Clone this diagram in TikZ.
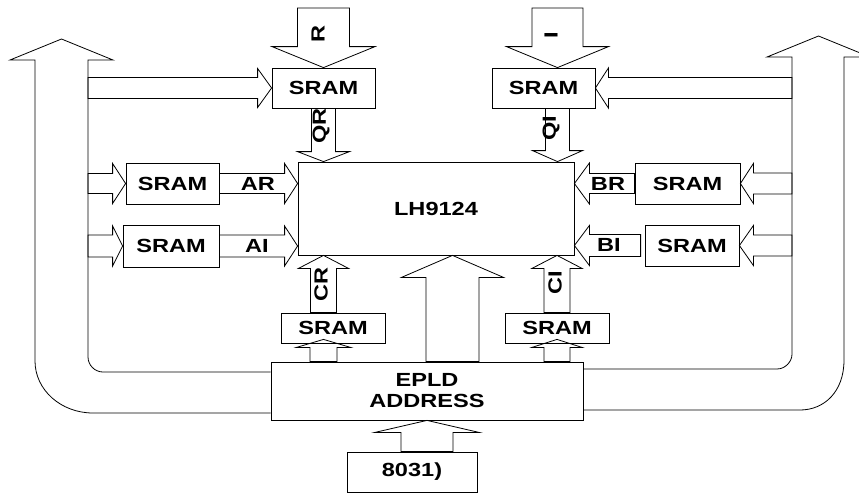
\documentclass[tikz,border=0pt]{standalone}
\usepackage{fontspec}
\setmainfont{Liberation Sans}[FakeStretch=1.24]
\usetikzlibrary{calc}

% block arrow: from, to, shaft half width, head half width, head length
\newcommand{\blkarrow}[5]{%
  \coordinate (ba) at (#1);
  \coordinate (bb) at (#2);
  \coordinate (bh) at ($(bb)!#5!(ba)$);
  \draw[blk] ($(ba)!#3!90:(bb)$) -- ($(bh)!#3!90:(bb)$) -- ($(bh)!#4!90:(bb)$)
    -- (bb) -- ($(bh)!#4!-90:(bb)$) -- ($(bh)!#3!-90:(bb)$) -- ($(ba)!#3!-90:(bb)$) -- cycle;
}

\begin{document}
\begin{tikzpicture}[x=1pt, y=-1pt,
  box/.style={draw, line width=0.8pt, inner sep=0pt, align=center,
              font=\bfseries\fontsize{19}{21}\selectfont},
  blk/.style={draw, line width=0.8pt},
  bus/.style={draw, line width=0.8pt},
  lbl/.style={inner sep=0pt, font=\bfseries\fontsize{19}{21}\selectfont},
]
\path[use as bounding box, clip] (0,0) rectangle (859,493);

% boxes
\node[box, minimum width=103pt, minimum height=40pt] (sqr)  at (323.5,88)  {SRAM};
\node[box, minimum width=103pt, minimum height=40pt] (sqi)  at (543.5,88)  {SRAM};
\node[box, minimum width=276pt, minimum height=93pt] (lh)   at (436,208.5) {LH9124};
\node[box, minimum width=93pt,  minimum height=41pt] (sar)  at (172.5,183.5) {SRAM};
\node[box, minimum width=96pt,  minimum height=42pt] (sai)  at (171,246)   {SRAM};
\node[box, minimum width=105pt, minimum height=41pt] (sbr)  at (687.5,183.5) {SRAM};
\node[box, minimum width=94pt,  minimum height=41pt] (sbi)  at (692,245.5) {SRAM};
\node[box, minimum width=104pt, minimum height=30pt] (scr)  at (333,328)   {SRAM};
\node[box, minimum width=104pt, minimum height=30pt] (sci)  at (557,328)   {SRAM};
\node[box, minimum width=312pt, minimum height=58pt] (epld) at (427,391)   {EPLD\\ADDRESS};
\node[box, minimum width=130pt, minimum height=40pt] (mcu)  at (412,472)   {8031)};

\coordinate (rtop) at (323.5,8);
\coordinate (itop) at (557.5,8);
\coordinate (mid)  at (452.5,0);
\coordinate (busl) at (88,0);
\coordinate (busr) at (792,0);

% address buses
\draw[bus] (epld.west |- 0,413) -- (93,413) .. controls (61,413) and (35,390) .. (35,361)
  -- (35,60) -- (10,60) -- (61.5,39) -- (113,60) -- (88,60)
  -- (88,357) .. controls (88,365) and (94.7,372) .. (103,372) -- (epld.west |- 0,372);
\draw[bus] (epld.east |- 0,410) -- (800,410) .. controls (824,410) and (844,392) .. (844,360)
  -- (844,57) -- (870,57) -- (818.5,36) -- (767,57) -- (792,57)
  -- (792,354) .. controls (792,362) and (785,369) .. (777,369) -- (epld.east |- 0,369);

% top inputs
\blkarrow{rtop}{sqr.north}{26pt}{51.5pt}{21pt}
\blkarrow{itop}{sqi.north -| itop}{25.5pt}{51pt}{21pt}
\blkarrow{sqr.south}{lh.north -| sqr.south}{12pt}{26pt}{10pt}
\blkarrow{sqi.south -| itop}{lh.north -| itop}{12pt}{25pt}{11pt}

% bottom
\blkarrow{scr.north -| sqr.south}{lh.south -| sqr.south}{13pt}{25pt}{13pt}
\blkarrow{sci.north}{lh.south -| sci.north}{13pt}{25pt}{13pt}
\blkarrow{epld.north -| mid}{lh.south -| mid}{26.5pt}{51pt}{22pt}
\blkarrow{epld.north -| sqr.south}{$(scr.south -| sqr.south)+(0,-4)$}{13.5pt}{27pt}{8pt}
\blkarrow{epld.north -| sci.north}{$(sci.south)+(0,-4)$}{13pt}{25pt}{8pt}
\blkarrow{mcu.north -| epld.south}{epld.south}{26pt}{52pt}{12pt}

% left side
\blkarrow{busl |- sqr.west}{sqr.west}{10.5pt}{19.5pt}{14pt}
\blkarrow{busl |- sar.west}{sar.west}{10pt}{20pt}{13pt}
\blkarrow{busl |- sai.west}{sai.west}{11pt}{20pt}{10pt}
\blkarrow{sar.east}{sar.east -| lh.west}{10pt}{20pt}{13pt}
\blkarrow{sai.east}{sai.east -| lh.west}{11pt}{20pt}{13pt}

% right side
\blkarrow{busr |- sqi.east}{sqi.east}{10.5pt}{20pt}{13pt}
\blkarrow{busr |- sbr.east}{sbr.east}{10.5pt}{20pt}{13pt}
\blkarrow{busr |- sbi.east}{sbi.east}{10.5pt}{20pt}{14pt}
\blkarrow{sbr.west}{sbr.west -| lh.east}{10pt}{20.5pt}{15pt}
\blkarrow{$(sbi.west)+(-4,0)$}{sbi.west -| lh.east}{11pt}{20pt}{15pt}

% labels
\node[lbl, rotate=90] (lr)  at (318,34)  {R};
\node[lbl, rotate=90] (li)  at (551,35)  {I};
\node[lbl, rotate=90] (lqr) at (321,126) {QR};
\node[lbl, rotate=90] (lqi) at (551,128) {QI};
\node[lbl, rotate=90] (lcr) at (321,284) {CR};
\node[lbl, rotate=90] (lci) at (555,283) {CI};
\node[lbl] (lar) at (258,184) {AR};
\node[lbl] (lai) at (257,246) {AI};
\node[lbl] (lbr) at (608,184) {BR};
\node[lbl] (lbi) at (609,245) {BI};
\end{tikzpicture}
\end{document}
